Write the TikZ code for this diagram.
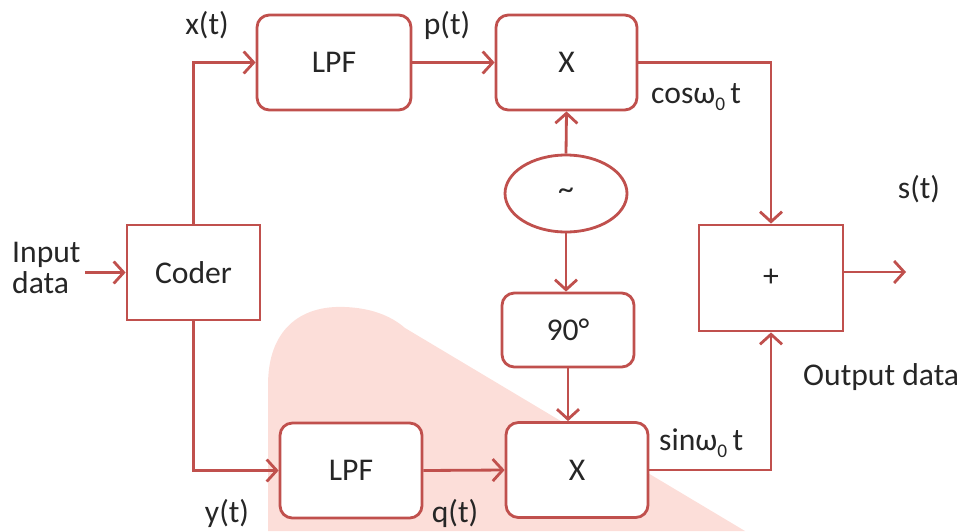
\documentclass[tikz,border=0pt]{standalone}
\usepackage{fontspec}
\setmainfont{Carlito}
\usepackage{tikz}
\usetikzlibrary{arrows.meta,positioning,shapes.geometric}
\definecolor{wire}{HTML}{C0504D}
\definecolor{boxedge}{HTML}{C0504D}
\definecolor{watermark}{HTML}{FCDED9}

\begin{document}
\begin{tikzpicture}[
    x=0.02cm, y=-0.02cm,
    every node/.style={font=\fontsize{18}{20}\selectfont, text=black!85},
    block/.style={draw=boxedge, fill=white, line width=1.6pt, rounded corners=7pt, minimum height=1.9cm},
    plainblock/.style={draw=boxedge, fill=white, line width=1.6pt, minimum height=1.9cm},
    oscblock/.style={ellipse, draw=boxedge, fill=white, line width=1.6pt, minimum width=2.44cm, minimum height=1.54cm, inner sep=0pt},
    arrow/.style={-{Straight Barb[length=2mm,width=4.4mm]}, wire, line width=1.6pt}
]
\useasboundingbox (0,0) rectangle (962,531);

% Watermark in the background
\fill[watermark] (268,531) -- (268,385) .. controls (268,330) and (300,305) .. (345,307)
  .. controls (370,308) and (390,315) .. (405,328) -- (745,531) -- cycle;

% Blocks
\node[plainblock, minimum width=2.66cm] (coder) at (193.5,272.5) {Coder};
\node[block, minimum width=3.08cm] (lpfA) at (334,62.5) {LPF};
\node[block, minimum width=2.82cm] (mulA) at (566.5,62.5) {X};
\node[oscblock] (osc) at (566,193.5) {\raisebox{-0.3ex}{\textasciitilde}};
\node[block, minimum width=2.64cm, minimum height=1.48cm] (shift) at (568,330) {90°};
\node[block, minimum width=2.84cm] (mulB) at (577,470) {X};
\node[block, minimum width=2.84cm] (lpfB) at (351,470.5) {LPF};
\node[plainblock, minimum width=2.88cm, minimum height=2.12cm] (adder) at (771,278) {+};

% Free ends
\coordinate (in) at (85,272.5);
\coordinate (out) at (906,272);

% Connectors
\draw[arrow] (in) -- (coder.west);
\draw[arrow] (coder.north) |- (lpfA.west);
\draw[arrow] (lpfA.east) -- (mulA.west);
\draw[arrow] (mulA.east) -| (adder.north);
\draw[arrow] (osc.north) -- (mulA.south);
\draw[arrow] (osc.south) -- (osc.south |- shift.north);
\draw[arrow] (shift.south) -- (shift.south |- mulB.north);
\draw[arrow] (coder.south) |- (lpfB.west);
\draw[arrow] (lpfB.east) -- (mulB.west);
\draw[arrow] (mulB.east) -| (adder.south);
\draw[arrow] (out -| adder.east) -- (out);

% Signal labels
\node[align=left, anchor=west] (inlab) at (6,268) {Input\\[-2pt]data};
\node (xlab) at (207,25) {x(t)};
\node (plab) at (447,25) {p(t)};
\node[anchor=west] (coslab) at (645,97) {cosω\raisebox{-0.5ex}{\fontsize{11}{12}\selectfont 0}\,t};
\node (slab) at (919,189) {s(t)};
\node[anchor=west] (sinlab) at (653,443) {sinω\raisebox{-0.5ex}{\fontsize{11}{12}\selectfont 0}\,t};
\node[anchor=west] (outlab) at (797,377) {Output data};
\node (ylab) at (227,513) {y(t)};
\node (qlab) at (455,513) {q(t)};

\end{tikzpicture}
\end{document}
